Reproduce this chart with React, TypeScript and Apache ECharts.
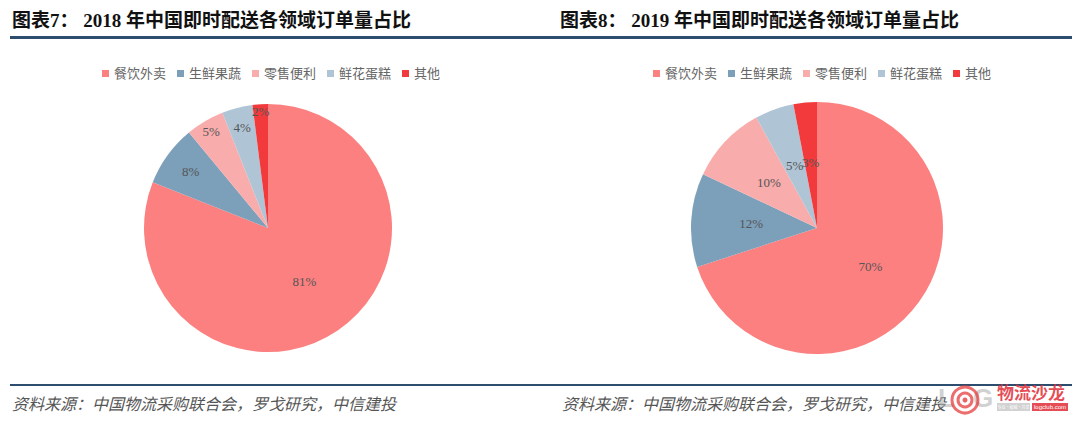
import React, { useEffect, useRef } from "react";
import * as echarts from "echarts";

const categories = ["餐饮外卖", "生鲜果蔬", "零售便利", "鲜花蛋糕", "其他"];
const share2018 = [81, 8, 5, 4, 2];
const share2019 = [70, 12, 10, 5, 3];
const sliceColors = ["#FC8080", "#7C9FBA", "#F8ACAC", "#AFC5D6", "#F23A3C"];
const title2018 = "图表7： 2018 年中国即时配送各领域订单量占比";
const title2019 = "图表8： 2019 年中国即时配送各领域订单量占比";
const sourceText = "资料来源：中国物流采购联合会，罗戈研究，中信建投";
// radial push of the 2018 labels relative to the default "inside" position
const labelPush2018 = [1, 1.47, 1.72, 1.6, 1.8];

const SERIF = '"Liberation Serif", "Noto Sans CJK SC", serif';
const LEFT_C = [268, 228];
const RIGHT_C = [817, 228];

export default function App() {
  const ref = useRef<HTMLDivElement>(null);
  useEffect(() => {
    if (!ref.current) return;
    const chart = echarts.init(ref.current, null, { renderer: "svg" });
    const mk = (vals: number[]) =>
      categories.map((n, i) => ({ name: n, value: vals[i], itemStyle: { color: sliceColors[i] } }));
    const labelStyle = {
      show: true,
      position: "inside",
      formatter: "{c}%",
      fontFamily: SERIF,
      fontSize: 13,
      color: "#555555",
    };
    const legendBase = {
      data: categories,
      icon: "rect",
      itemWidth: 7,
      itemHeight: 7,
      itemGap: 11,
      top: 67,
      padding: 0,
      textStyle: { fontFamily: SERIF, fontSize: 13, color: "#666666" },
    };
    chart.setOption({
      animation: false,
      backgroundColor: "#ffffff",
      legend: [
        { ...legendBase, left: 102 },
        { ...legendBase, left: 653 },
      ],
      series: [
        {
          type: "pie",
          center: LEFT_C,
          radius: [0, 124],
          startAngle: 90,
          clockwise: true,
          avoidLabelOverlap: false,
          data: mk(share2018),
          label: labelStyle,
          labelLine: { show: false },
          emphasis: { disabled: true },
          labelLayout: (p: any) => {
            const k = labelPush2018[p.dataIndex] ?? 1;
            const r = p.labelRect;
            const lx = r.x + r.width / 2;
            const ly = r.y + r.height / 2;
            return {
              hideOverlap: false,
              dx: (lx - LEFT_C[0]) * (k - 1),
              dy: (ly - LEFT_C[1]) * (k - 1),
            };
          },
        },
        {
          type: "pie",
          center: RIGHT_C,
          radius: [0, 126],
          startAngle: 90,
          clockwise: true,
          avoidLabelOverlap: false,
          data: mk(share2019),
          label: labelStyle,
          labelLine: { show: false },
          emphasis: { disabled: true },
          labelLayout: { hideOverlap: false },
        },
      ],
      graphic: [
        {
          type: "text",
          x: 12,
          y: 20,
          style: { text: title2018, font: `bold 19px ${SERIF}`, fill: "#111", verticalAlign: "middle" },
        },
        {
          type: "text",
          x: 560,
          y: 20,
          style: { text: title2019, font: `bold 19px ${SERIF}`, fill: "#111", verticalAlign: "middle" },
        },
        {
          type: "line",
          shape: { x1: 10, y1: 37.5, x2: 1072, y2: 37.5 },
          style: { stroke: "#2C4D6E", lineWidth: 3 },
        },
        {
          type: "line",
          shape: { x1: 10, y1: 385, x2: 1072, y2: 385 },
          style: { stroke: "#2C4D6E", lineWidth: 2 },
        },
        {
          type: "text",
          x: 12,
          y: 404,
          style: { text: sourceText, font: `italic 16px ${SERIF}`, fill: "#555", verticalAlign: "middle" },
        },
        {
          type: "text",
          x: 562,
          y: 404,
          style: { text: sourceText, font: `italic 16px ${SERIF}`, fill: "#555", verticalAlign: "middle" },
        },
        {
          type: "group",
          x: 0,
          y: 0,
          children: [
            {
              type: "text",
              x: 938,
              y: 398,
              style: {
                text: "L",
                font: 'bold 26px "Liberation Sans", sans-serif',
                fill: "rgba(170,170,170,0.55)",
                verticalAlign: "middle",
              },
            },
            {
              type: "text",
              x: 973,
              y: 398,
              style: {
                text: "G",
                font: 'bold 26px "Liberation Sans", sans-serif',
                fill: "rgba(170,170,170,0.55)",
                verticalAlign: "middle",
              },
            },
            { type: "circle", shape: { cx: 965, cy: 400, r: 13 }, style: { fill: "none", stroke: "rgba(230,60,60,0.75)", lineWidth: 3 } },
            { type: "circle", shape: { cx: 965, cy: 400, r: 7 }, style: { fill: "none", stroke: "rgba(230,60,60,0.75)", lineWidth: 3 } },
            { type: "circle", shape: { cx: 965, cy: 400, r: 2.5 }, style: { fill: "rgba(230,60,60,0.8)" } },
            {
              type: "text",
              x: 997,
              y: 391,
              style: {
                text: "物流沙龙",
                font: 'bold 17px "Noto Sans CJK SC", sans-serif',
                fill: "rgba(225,45,55,0.85)",
                verticalAlign: "middle",
              },
            },
            { type: "rect", shape: { x: 997, y: 403, width: 33, height: 8 }, style: { fill: "rgba(180,180,180,0.6)" } },
            {
              type: "text",
              x: 1013.5,
              y: 407,
              style: {
                text: "专业·权威·共享",
                font: '4px "Noto Sans CJK SC"',
                fill: "#fff",
                align: "center",
                verticalAlign: "middle",
              },
            },
            { type: "rect", shape: { x: 1032, y: 403, width: 36, height: 8 }, style: { fill: "rgba(225,45,55,0.85)" } },
            {
              type: "text",
              x: 1050,
              y: 407,
              style: { text: "logclub.com", font: '6px "Liberation Sans"', fill: "#fff", align: "center", verticalAlign: "middle" },
            },
          ],
        },
      ],
    });
    return () => chart.dispose();
  }, []);
  return (
    <div
      ref={ref}
      style={{ position: "fixed", left: 0, top: 0, width: 1080, height: 428, background: "#fff" }}
    />
  );
}
